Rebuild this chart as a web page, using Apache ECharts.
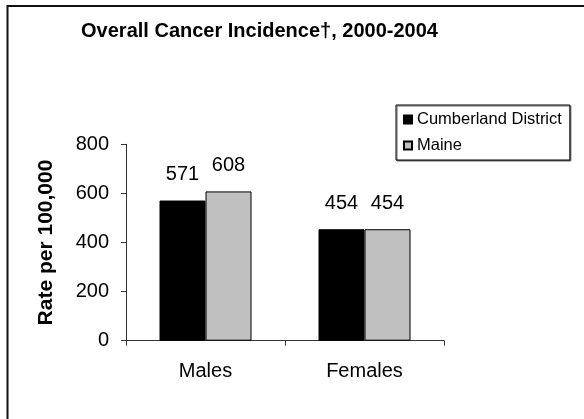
<!DOCTYPE html>
<html>
<head>
<meta charset="utf-8">
<script src="https://cdn.jsdelivr.net/npm/echarts@6/dist/echarts.min.js"></script>
<style>
  html, body { margin: 0; padding: 0; background: #fff; }
  #chart { width: 584px; height: 419px; }
</style>
</head>
<body>
<div id="chart"></div>
<script>
const titleText = 'Overall Cancer Incidence\u2020, 2000-2004';
const categories = ['Males', 'Females'];
const seriesNames = ['Cumberland District', 'Maine'];
const cumberland = [571, 454];
const maine = [608, 454];
const yTicks = [0, 200, 400, 600, 800];

const FONT = '"Liberation Sans", Arial, sans-serif';
const chart = echarts.init(document.getElementById('chart'), null, { renderer: 'canvas' });

chart.setOption({
  backgroundColor: '#fff',
  animation: false,
  textStyle: { fontFamily: FONT, color: '#000' },
  graphic: [{
    type: 'rect',
    shape: { x: 7.5, y: 6, width: 700, height: 600 },
    style: { fill: 'none', stroke: '#111', lineWidth: 2 },
    silent: true, z: 0
  }],
  title: {
    text: titleText,
    left: 259.5,
    textAlign: 'center',
    top: 21,
    padding: 0,
    textStyle: { fontFamily: FONT, fontSize: 20, fontWeight: 'bold', color: '#000' }
  },
  legend: {
    orient: 'vertical',
    left: 396,
    top: 105,
    width: 173,
    padding: [6, 8, 6, 7],
    itemGap: 9,
    itemWidth: 8,
    itemHeight: 8,
    icon: 'rect',
    borderColor: '#000',
    borderWidth: 1,
    backgroundColor: '#fff',
    shadowColor: '#666',
    shadowOffsetX: 1,
    shadowOffsetY: 1,
    shadowBlur: 0,
    textStyle: { fontFamily: FONT, fontSize: 16.5, color: '#000' },
    data: seriesNames
  },
  grid: { left: 126, right: 140, top: 144.3, bottom: 78.3, containLabel: false },
  xAxis: {
    type: 'category',
    data: categories,
    axisLine: { lineStyle: { color: '#333', width: 1 } },
    axisTick: { show: true, length: 5, lineStyle: { color: '#333' } },
    axisLabel: { fontFamily: FONT, fontSize: 20, color: '#000', margin: 21 }
  },
  yAxis: {
    type: 'value',
    min: 0,
    max: yTicks[yTicks.length - 1],
    interval: yTicks[1] - yTicks[0],
    name: 'Rate per 100,000',
    nameLocation: 'middle',
    nameGap: 69,
    nameTextStyle: { fontFamily: FONT, fontSize: 21, fontWeight: 'bold', color: '#000' },
    axisLine: { show: true, lineStyle: { color: '#333', width: 1 } },
    axisTick: { show: true, length: 5, lineStyle: { color: '#333' } },
    axisLabel: { fontFamily: FONT, fontSize: 20, color: '#000', margin: 17 },
    splitLine: { show: false }
  },
  series: [
    {
      name: seriesNames[0],
      type: 'bar',
      data: cumberland,
      barWidth: 46,
      barGap: '0%',
      itemStyle: { color: '#000', borderColor: '#000', borderWidth: 1 },
      label: { show: true, position: 'top', distance: 16, fontFamily: FONT, fontSize: 20, color: '#000' }
    },
    {
      name: seriesNames[1],
      type: 'bar',
      data: maine,
      barWidth: 46,
      barGap: '0%',
      itemStyle: { color: '#c0c0c0', borderColor: '#000', borderWidth: 1 },
      label: { show: true, position: 'top', distance: 16, fontFamily: FONT, fontSize: 20, color: '#000' }
    }
  ]
});
</script>
</body>
</html>
